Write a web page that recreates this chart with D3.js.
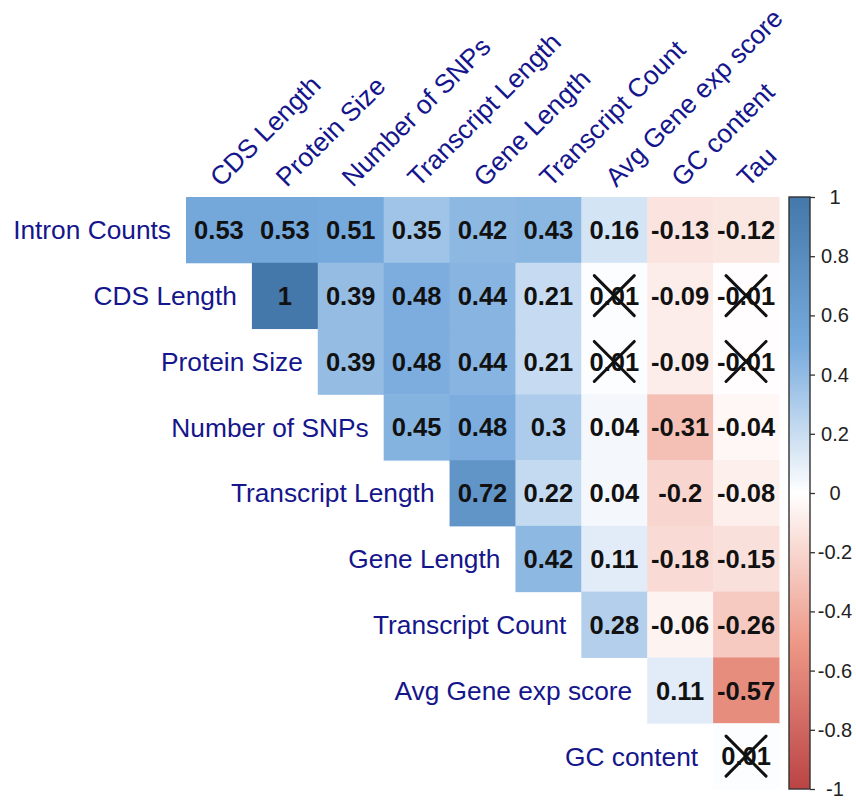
<!DOCTYPE html>
<html>
<head>
<meta charset="utf-8">
<script src="https://cdn.jsdelivr.net/npm/d3@7"></script>
<style>
  html, body { margin: 0; padding: 0; background: #fff; }
  svg { display: block; }
</style>
</head>
<body>
<svg id="chart" width="856" height="800"></svg>
<script>
// ---- data ----
const rowLabels = ["Intron Counts", "CDS Length", "Protein Size", "Number of SNPs",
  "Transcript Length", "Gene Length", "Transcript Count", "Avg Gene exp score", "GC content"];
const colLabels = ["CDS Length", "Protein Size", "Number of SNPs", "Transcript Length",
  "Gene Length", "Transcript Count", "Avg Gene exp score", "GC content", "Tau"];
// each row starts at column index equal to its row index
const rowValues = [
  [0.53, 0.53, 0.51, 0.35, 0.42, 0.43, 0.16, -0.13, -0.12],
  [1, 0.39, 0.48, 0.44, 0.21, 0.01, -0.09, -0.01],
  [0.39, 0.48, 0.44, 0.21, 0.01, -0.09, -0.01],
  [0.45, 0.48, 0.3, 0.04, -0.31, -0.04],
  [0.72, 0.22, 0.04, -0.2, -0.08],
  [0.42, 0.11, -0.18, -0.15],
  [0.28, -0.06, -0.26],
  [0.11, -0.57],
  [0.01]
];
// non-significant cells (row, column) marked with a cross
const crossed = [[1, 6], [1, 8], [2, 6], [2, 8], [8, 8]];
const colorbarTicks = [1, 0.8, 0.6, 0.4, 0.2, 0, -0.2, -0.4, -0.6, -0.8, -1];

// ---- layout ----
const svg = d3.select("#chart");
const gridLeft = 186, gridRight = 779, gridTop = 197, gridBottom = 789;
const x = d3.scaleBand().domain(d3.range(colLabels.length)).range([gridLeft, gridRight]);
const y = d3.scaleBand().domain(d3.range(rowLabels.length)).range([gridTop, gridBottom]);
const color = d3.scaleLinear()
  .domain([-1, -0.5, 0, 0.5, 1])
  .range(["#BB4444", "#EE9988", "#FFFFFF", "#77AADD", "#4477AA"]);

const cells = [];
rowValues.forEach((vals, r) => {
  vals.forEach((v, k) => cells.push({ r, c: r + k, v }));
});
const isCrossed = (d) => crossed.some(p => p[0] === d.r && p[1] === d.c);

const fontFam = "'Liberation Sans', Arial, Helvetica, sans-serif";
const labelSize = 26.3;

// cells
svg.append("g").selectAll("rect").data(cells).join("rect")
  .attr("x", d => x(d.c))
  .attr("y", d => y(d.r))
  .attr("width", x.bandwidth() + 0.5)
  .attr("height", y.bandwidth() + 0.5)
  .attr("fill", d => color(d.v));

// numbers
svg.append("g").selectAll("text").data(cells).join("text")
  .attr("x", d => x(d.c) + x.bandwidth() / 2)
  .attr("y", d => y(d.r) + y.bandwidth() / 2)
  .attr("dy", "0.36em")
  .attr("text-anchor", "middle")
  .attr("font-family", fontFam)
  .attr("font-weight", "bold")
  .attr("font-size", 25.5)
  .attr("fill", "#111")
  .text(d => String(d.v));

// crosses
const crossCells = cells.filter(isCrossed);
const half = 20;
const cg = svg.append("g").attr("stroke", "#111").attr("stroke-width", 3).attr("stroke-linecap", "round");
crossCells.forEach(d => {
  const cx = x(d.c) + x.bandwidth() / 2, cy = y(d.r) + y.bandwidth() / 2;
  cg.append("line").attr("x1", cx - half).attr("y1", cy - half).attr("x2", cx + half).attr("y2", cy + half);
  cg.append("line").attr("x1", cx - half).attr("y1", cy + half).attr("x2", cx + half).attr("y2", cy - half);
});

// row labels
svg.append("g").selectAll("text").data(rowLabels).join("text")
  .attr("x", (d, i) => x(i) - 15)
  .attr("y", (d, i) => y(i) + y.bandwidth() / 2)
  .attr("dy", "0.36em")
  .attr("text-anchor", "end")
  .attr("font-family", fontFam)
  .attr("font-size", labelSize)
  .attr("fill", "#15158c")
  .text(d => d);

// column labels
svg.append("g").selectAll("text").data(colLabels).join("text")
  .attr("transform", (d, i) => `translate(${x(i) + x.bandwidth() / 2 + 2},${gridTop - 9}) rotate(-45)`)
  .attr("text-anchor", "start")
  .attr("font-family", fontFam)
  .attr("font-size", labelSize)
  .attr("fill", "#15158c")
  .text(d => d);

// colorbar
const cbX = 789, cbW = 21;
const cbY = d3.scaleLinear().domain([1, -1]).range([gridTop, gridBottom]);
const defs = svg.append("defs");
const grad = defs.append("linearGradient").attr("id", "cbgrad")
  .attr("x1", 0).attr("y1", 0).attr("x2", 0).attr("y2", 1);
d3.range(0, 1.0001, 0.05).forEach(t => {
  grad.append("stop").attr("offset", t).attr("stop-color", color(1 - 2 * t));
});
svg.append("rect")
  .attr("x", cbX).attr("y", gridTop)
  .attr("width", cbW).attr("height", gridBottom - gridTop)
  .attr("fill", "url(#cbgrad)")
  .attr("stroke", "#333").attr("stroke-width", 1.4);

const axis = d3.axisRight(cbY).tickValues(colorbarTicks).tickSize(5).tickPadding(6)
  .tickFormat(d => String(d));
const ag = svg.append("g").attr("transform", `translate(${cbX + cbW},0)`).call(axis);
ag.select(".domain").remove();
ag.selectAll(".tick line").attr("stroke", "#333").attr("stroke-width", 1.3);
ag.selectAll(".tick text")
  .attr("x", 25)
  .attr("text-anchor", "middle")
  .attr("font-family", fontFam)
  .attr("font-size", 20)
  .attr("fill", "#222");
</script>
</body>
</html>
